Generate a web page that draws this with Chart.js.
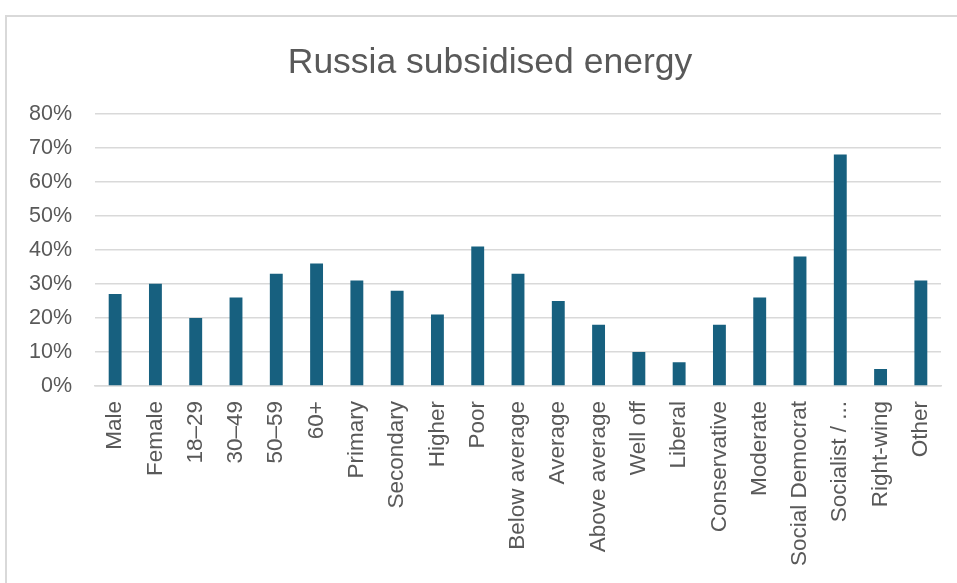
<!DOCTYPE html>
<html>
<head>
<meta charset="utf-8">
<script src="https://cdn.jsdelivr.net/npm/chart.js@4"></script>
<style>
  html, body { margin: 0; padding: 0; background: #fff; overflow: hidden; }
  #frame {
    position: absolute;
    left: 5px;
    top: 15px;
    width: 1000px;
    height: 600px;
    border-left: 2px solid #d9d9d9;
    border-top: 2px solid #d9d9d9;
  }
  #wrap { position: absolute; left: 0; top: 0; width: 957px; height: 583px; }
</style>
</head>
<body>
<div id="frame"></div>
<div id="wrap"><canvas id="chart"></canvas></div>
<script>
const categories = [
  "Male", "Female", "18–29", "30–49", "50–59", "60+",
  "Primary", "Secondary", "Higher",
  "Poor", "Below average", "Average", "Above average", "Well off",
  "Liberal", "Conservative", "Moderate", "Social Democrat", "Socialist / ...",
  "Right-wing", "Other",
];
const shares = [27, 30, 20, 26, 33, 36, 31, 28, 21, 41, 33, 25, 18, 10, 7, 18, 26, 38, 68, 5, 31];
const yTicks = [0, 10, 20, 30, 40, 50, 60, 70, 80];

const textColor = "#595959";
const gridColor = "#d9d9d9";
const fontFamily = "Liberation Sans, Arial, sans-serif";

const chart = document.getElementById("chart");

new Chart(chart, {
  type: "bar",
  data: {
    labels: categories,
    datasets: [
      {
        data: shares,
        backgroundColor: "#17607f",
        barPercentage: 0.32,
        categoryPercentage: 1,
      },
    ],
  },
  options: {
    responsive: true,
    maintainAspectRatio: false,
    animation: false,
    // negative right padding widens the title box so it centres over the
    // whole frame; the x scale's own right padding then sets the plot edge
    layout: { padding: { left: 0, right: -23, top: 0, bottom: 0 } },
    plugins: {
      legend: { display: false },
      tooltip: { enabled: false },
      title: {
        display: true,
        text: "Russia subsidised energy",
        color: textColor,
        font: { family: fontFamily, size: 35.5, weight: "normal" },
        padding: { top: 42, bottom: 29 },
      },
    },
    scales: {
      x: {
        grid: { display: false, drawTicks: false },
        border: { color: gridColor, width: 1.5 },
        ticks: {
          color: textColor,
          font: { family: fontFamily, size: 22.5 },
          minRotation: 90,
          maxRotation: 90,
          autoSkip: false,
          padding: 15,
        },
        afterFit: (scale) => {
          scale.height = 197;
          scale.paddingLeft = 0;
          scale.paddingRight = 16;
        },
      },
      y: {
        min: 0,
        max: 80,
        afterBuildTicks: (scale) => {
          scale.ticks = yTicks.map((v) => ({ value: v }));
        },
        grid: { color: gridColor, lineWidth: 1.5, drawTicks: false },
        border: { display: false },
        ticks: {
          color: textColor,
          font: { family: fontFamily, size: 21.5 },
          padding: 23,
          callback: (v) => v + "%",
        },
        afterFit: (scale) => {
          scale.width = 95;
        },
      },
    },
  },
});
</script>
</body>
</html>
